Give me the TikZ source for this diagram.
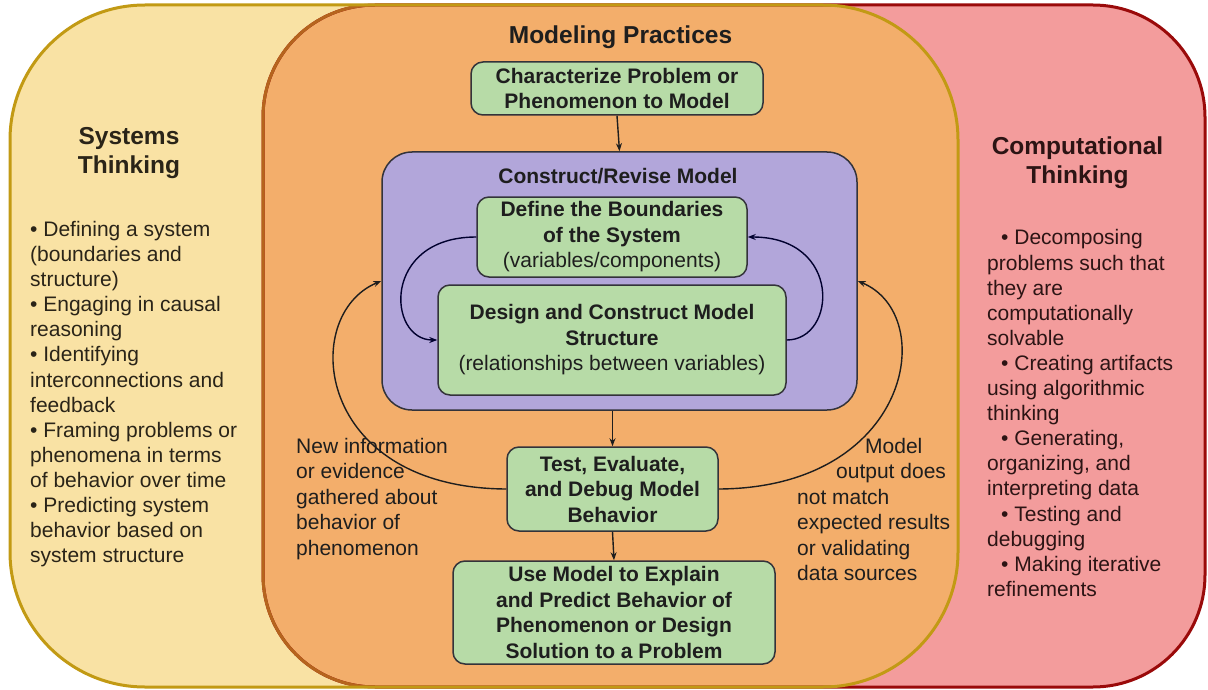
\documentclass[tikz,border=0pt]{standalone}
\usepackage{fontspec}
\setmainfont{Liberation Sans}
\usetikzlibrary{arrows.meta,calc}
\definecolor{yfill}{HTML}{F9E2A4}
\definecolor{rfill}{HTML}{F39C9C}
\definecolor{ofill}{HTML}{F3AE6B}
\definecolor{pfill}{HTML}{B2A6DA}
\definecolor{gfill}{HTML}{B7DBA7}
\definecolor{yline}{HTML}{C29A14}
\definecolor{rline}{HTML}{9A0A0A}
\definecolor{oline}{HTML}{B5651D}
\definecolor{ink}{HTML}{1E1E1E}
\definecolor{yink}{HTML}{2A2418}
\definecolor{rink}{HTML}{2C1414}
\definecolor{boxline}{HTML}{33333A}
\begin{document}
\begin{tikzpicture}[x=1pt,y=-1pt,
  greenbox/.style={draw=boxline, line width=1.5pt, fill=gfill, rounded corners=12pt,
    inner sep=0pt, align=center, text=ink, font=\fontsize{21}{25.5}\selectfont\bfseries},
  titletext/.style={inner sep=0pt, align=center, anchor=north, font=\fontsize{24.5}{29}\selectfont\bfseries},
  listtext/.style={inner sep=0pt, align=left, anchor=north west, font=\fontsize{21}{25.1}\selectfont},
  labeltext/.style={inner sep=0pt, align=left, anchor=north west, text=ink, font=\fontsize{21}{25.5}\selectfont},
  arr/.style={line width=1.4pt, draw=ink, -{Stealth[length=8pt,width=6pt]}},
  innerarr/.style={line width=1.4pt, draw=black!70!blue!60!black, -{Stealth[length=8pt,width=6pt]}}
]
\useasboundingbox (0,0) rectangle (1208,690);
\fill[white] (0,0) rectangle (1208,690);

% outer regions
\fill[yfill, rounded corners=135pt] (10,5) rectangle (958,687);
\fill[rfill, rounded corners=112pt] (263,5) rectangle (1205,687);
\begin{scope}
  \clip[rounded corners=135pt] (10,5) rectangle (958,687);
  \fill[ofill, rounded corners=112pt] (263,5) rectangle (1205,687);
\end{scope}
\draw[rline, line width=3pt, rounded corners=112pt] (263,5) rectangle (1205,687);
\begin{scope}
  \clip[rounded corners=135pt] (10,5) rectangle (958,687);
  \draw[oline, line width=3pt, rounded corners=112pt] (263,5) rectangle (1205,687);
\end{scope}
\draw[yline, line width=3pt, rounded corners=135pt] (10,5) rectangle (958,687);

% titles
\node[titletext, text=yink] (st) at (129,127) {Systems\\Thinking};
\node[titletext, text=rink] (ct) at (1077.5,136.5) {Computational\\Thinking};
\node[titletext, text=ink] (mp) at (620.5,26) {Modeling Practices};

% lists
\node[listtext, text=yink] (stlist) at (30,221) {\textbullet\ Defining a system\\(boundaries and\\structure)\\\textbullet\ Engaging in causal\\reasoning\\\textbullet\ Identifying\\interconnections and\\feedback\\\textbullet\ Framing problems or\\phenomena in terms\\of behavior over time\\\textbullet\ Predicting system\\behavior based on\\system structure};
\node[listtext, text=rink] (ctlist) at (987,229.5) {\hspace*{14pt}\textbullet\ Decomposing\\problems such that\\they are\\computationally\\solvable\\\hspace*{14pt}\textbullet\ Creating artifacts\\using algorithmic\\thinking\\\hspace*{14pt}\textbullet\ Generating,\\organizing, and\\interpreting data\\\hspace*{14pt}\textbullet\ Testing and\\debugging\\\hspace*{14pt}\textbullet\ Making iterative\\refinements};

% modeling practices content
\node[greenbox, minimum width=292pt, minimum height=53pt] (char) at (617,88.5) {Characterize Problem or\\Phenomenon to Model};
\node[draw=boxline, line width=1.5pt, fill=pfill, rounded corners=30pt, minimum width=475pt, minimum height=258pt, inner sep=0pt] (pur) at (619.5,281) {};
\node[inner sep=0pt, anchor=north, text=ink, font=\fontsize{21}{25.5}\selectfont\bfseries] (crm) at (618,168) {Construct/Revise Model};
\node[greenbox, minimum width=270pt, minimum height=80pt] (def) at (612,237) {Define the Boundaries\\of the System\\{\mdseries (variables/components)}};
\node[greenbox, minimum width=348pt, minimum height=110pt] (des) at (612,340) {Design and Construct Model\\Structure\\{\mdseries (relationships between variables)}};
\node[greenbox, minimum width=211pt, minimum height=84pt] (test) at (612.5,489) {Test, Evaluate,\\and Debug Model\\Behavior};
\node[greenbox, minimum width=322pt, minimum height=103pt] (use) at (614,612.5) {Use Model to Explain\\and Predict Behavior of\\Phenomenon or Design\\Solution to a Problem};

% labels
\node[labeltext] (newinfo) at (296,438) {New information\\or evidence\\gathered about\\behavior of\\phenomenon};
\node[labeltext] (mismatch) at (797,438) {\hspace*{68pt}Model\\\hspace*{39pt}output does\\not match\\expected results\\or validating\\data sources};

% connectors
\draw[arr] (char.south) -- (pur.north);
\draw[innerarr] (def.west) .. controls +(-95,0) and +(-50,0) .. (des.west);
\draw[innerarr] (des.east) .. controls +(50,0) and +(95,0) .. (def.east);
\draw[arr] (pur.south -| test.north) -- (test.north);
\draw[arr] (test.south) -- (use.north);
\draw[arr] (test.west) .. controls +(-192,-1) and +(-82,34) .. (pur.west);
\draw[arr] (test.east) .. controls +(192,-1) and +(82,34) .. (pur.east);
\end{tikzpicture}
\end{document}
